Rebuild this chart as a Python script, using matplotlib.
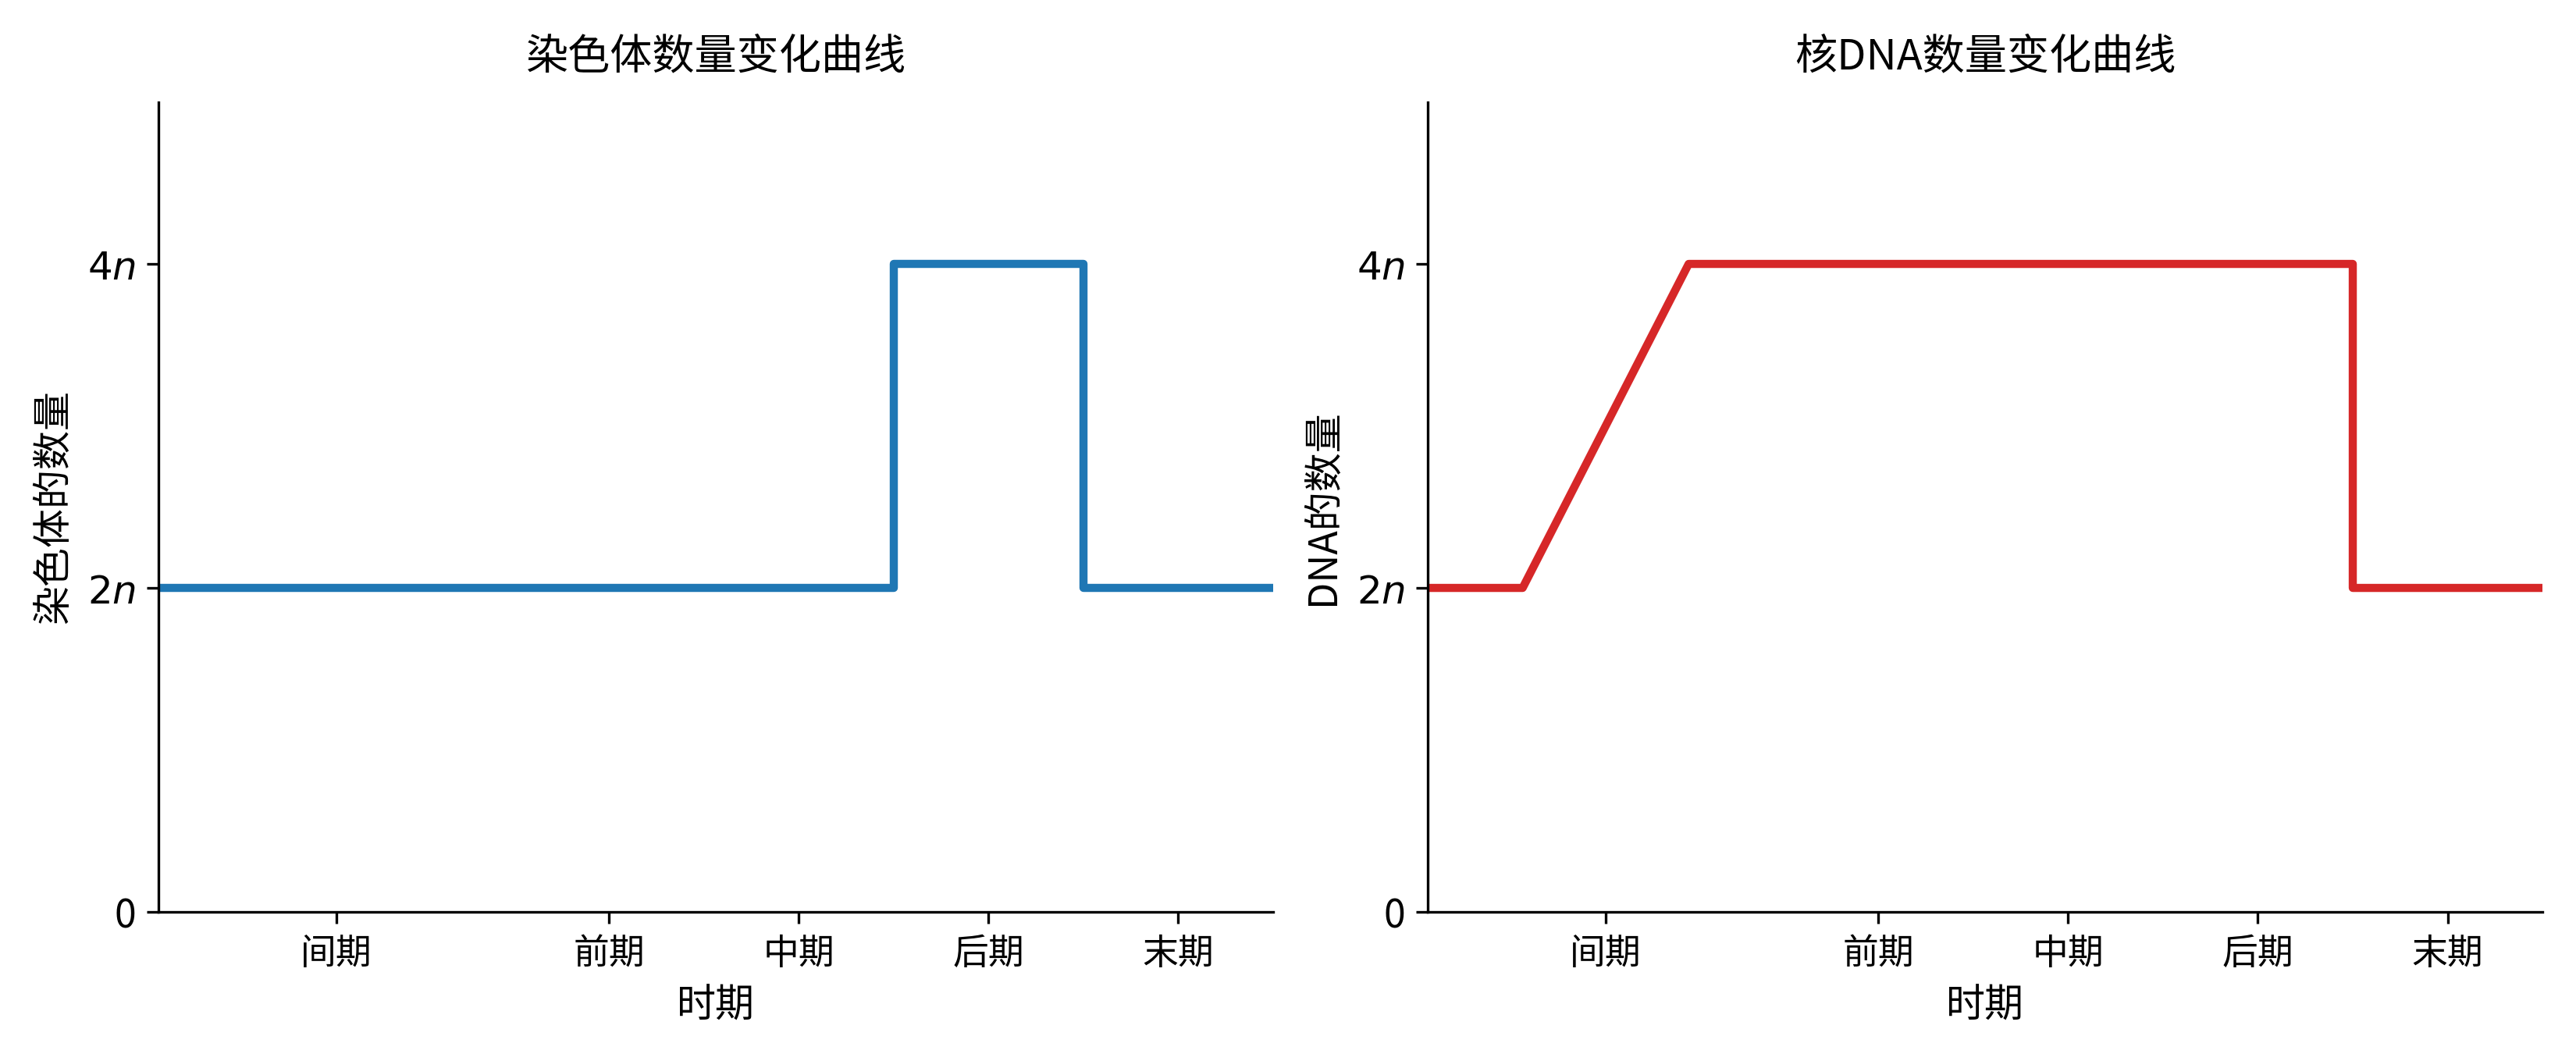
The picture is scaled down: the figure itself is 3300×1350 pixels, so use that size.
import matplotlib
matplotlib.use("Agg")
import matplotlib.pyplot as plt

# Phases of the cell cycle (boundaries on the time axis)
phase_names = ["间期", "前期", "中期", "后期", "末期"]
phase_bounds = [0, 15, 23, 31, 39, 47]

# Chromosome number (in units of n)
chrom_x = [0, 31, 31, 39, 39, 47]
chrom_y = [2, 2, 4, 4, 2, 2]

# Nuclear DNA amount (in units of n)
dna_x = [0, 4, 11, 39, 39, 47]
dna_y = [2, 2, 4, 4, 2, 2]

y_ticks = [0, 2, 4]
y_ticklabels = ["0", "$2n$", "$4n$"]

plt.rcParams["font.family"] = ["Noto Sans CJK SC", "DejaVu Sans"]

fig, axes = plt.subplots(1, 2, figsize=(11, 4.5), dpi=300)
fig.subplots_adjust(left=0.0615, right=0.987, bottom=0.1348, top=0.9033, wspace=0.1387)

tick_pos = [(phase_bounds[i] + phase_bounds[i + 1]) / 2 for i in range(len(phase_names))]

panels = [
    (axes[0], chrom_x, chrom_y, "#1f77b4", "染色体数量变化曲线", "染色体的数量"),
    (axes[1], dna_x, dna_y, "#d62728", "核DNA数量变化曲线", "DNA的数量"),
]

for ax, xs, ys, color, title, ylabel in panels:
    ax.plot(xs, ys, color=color, lw=2.5)
    ax.set_xlim(phase_bounds[0], phase_bounds[-1])
    ax.set_ylim(0, 5)
    ax.set_xticks(tick_pos)
    ax.set_xticklabels(phase_names, fontsize=11)
    ax.set_yticks(y_ticks)
    ax.set_yticklabels(y_ticklabels, fontsize=12)
    ax.set_xlabel("时期", fontsize=12)
    ax.set_ylabel(ylabel, fontsize=12)
    ax.set_title(title, fontsize=13, pad=10)
    ax.spines["top"].set_visible(False)
    ax.spines["right"].set_visible(False)

plt.savefig("out.png", dpi=300)
plt.close()
